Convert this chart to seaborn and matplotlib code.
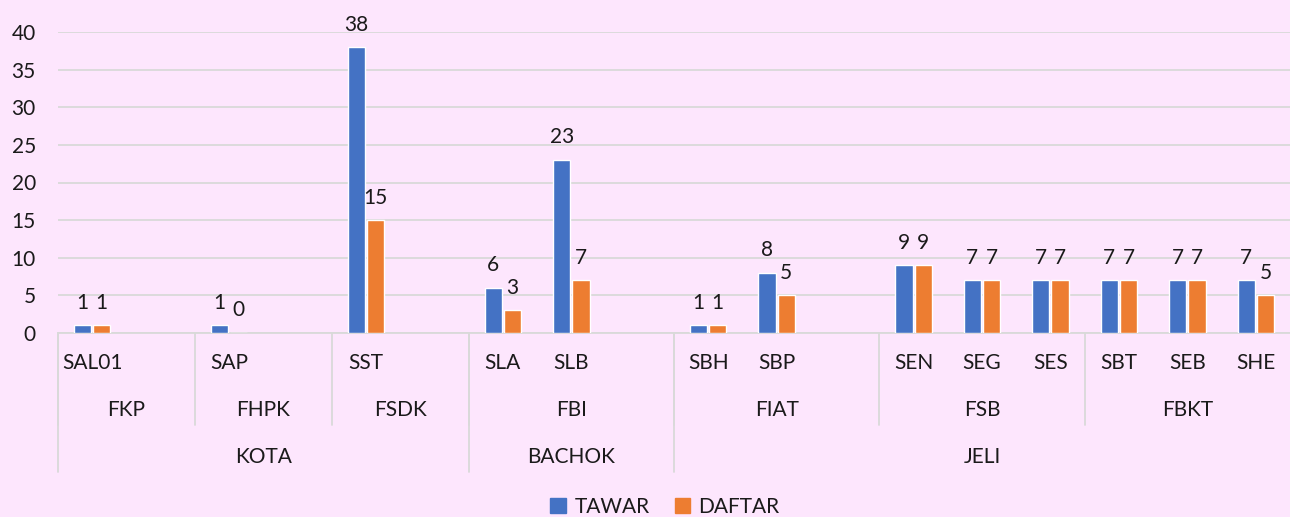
import pandas as pd
import matplotlib.pyplot as plt
import matplotlib.transforms as mtransforms
from matplotlib.patches import Patch
import seaborn as sns

# data
stesen = ['SAL01', 'SAP', 'SST', 'SLA', 'SLB', 'SBH', 'SBP',
          'SEN', 'SEG', 'SES', 'SBT', 'SEB', 'SHE']
tawar = [1, 1, 38, 6, 23, 1, 8, 9, 7, 7, 7, 7, 7]
daftar = [1, 0, 15, 3, 7, 1, 5, 9, 7, 7, 7, 7, 5]

# category slots on the axis (blank slots are empty categories in the source)
slots = ['SAL01', '', 'SAP', '', 'SST', '', 'SLA', 'SLB', '',
         'SBH', 'SBP', '', 'SEN', 'SEG', 'SES', 'SBT', 'SEB', 'SHE']
fakulti = ['FKP', 'FHPK', 'FSDK', 'FBI', 'FIAT', 'FSB', 'FBKT']
fakulti_span = [2, 2, 2, 3, 3, 3, 3]
kampus = ['KOTA', 'BACHOK', 'JELI']
kampus_span = [6, 3, 9]

order = [s if s else f'_blank{i}' for i, s in enumerate(slots)]

df = pd.DataFrame({
    'stesen': stesen * 2,
    'nilai': tawar + daftar,
    'siri': ['TAWAR'] * len(stesen) + ['DAFTAR'] * len(stesen),
})

bg = '#FDE6FD'
grid_c = '#D9D9D9'
txt_c = '#1a1a1a'
colors = {'TAWAR': '#4472C4', 'DAFTAR': '#ED7D31'}

sns.set_style('white')
plt.rcParams['font.family'] = ['Lato', 'DejaVu Sans']
fs = 15

fig = plt.figure(figsize=(12.9, 5.17), dpi=100, facecolor=bg)
ax = fig.add_axes([58 / 1290, (517 - 333) / 517, 1 - 58 / 1290, 301 / 517])
ax.set_facecolor(bg)

sns.barplot(data=df, x='stesen', y='nilai', hue='siri', order=order,
            hue_order=['TAWAR', 'DAFTAR'], palette=colors, saturation=1,
            width=0.56, gap=0.1, legend=False, ax=ax, zorder=3)

for cont in ax.containers:
    ax.bar_label(cont, fmt='%g', padding=9, fontsize=fs, color=txt_c)

ax.set_ylim(0, 40)
ax.set_xlim(-0.5, len(slots) - 0.5)
ax.set_yticks(range(0, 41, 5))
ax.yaxis.grid(True, color=grid_c, lw=1.3, zorder=0)
ax.set_axisbelow(True)
for s in ['top', 'right', 'left']:
    ax.spines[s].set_visible(False)
ax.spines['bottom'].set_color(grid_c)
ax.spines['bottom'].set_linewidth(1.3)
ax.tick_params(axis='y', length=0, pad=16, labelsize=fs, labelcolor=txt_c)
ax.set_xticks([])
ax.set_xlabel('')
ax.set_ylabel('')

# multi-level category axis
trans = mtransforms.blended_transform_factory(ax.transData, ax.transAxes)
y1, y2, y3 = -30 / 301, -77 / 301, -124 / 301
sep2, sep3 = -92 / 301, -139 / 301

for i, s in enumerate(slots):
    if s:
        ax.text(i, y1, s, transform=trans, ha='center', va='center',
                fontsize=fs, color=txt_c)

start = 0
for name, span in zip(fakulti, fakulti_span):
    ax.text(start + span / 2 - 0.5, y2, name, transform=trans,
            ha='center', va='center', fontsize=fs, color=txt_c)
    ax.plot([start - 0.5] * 2, [0, sep2], transform=trans, color=grid_c,
            lw=1.3, clip_on=False)
    start += span

start = 0
for name, span in zip(kampus, kampus_span):
    ax.text(start + span / 2 - 0.5, y3, name, transform=trans,
            ha='center', va='center', fontsize=fs, color=txt_c)
    ax.plot([start - 0.5] * 2, [0, sep3], transform=trans, color=grid_c,
            lw=1.3, clip_on=False)
    start += span

handles = [Patch(color=colors[k], label=k) for k in ['TAWAR', 'DAFTAR']]
fig.legend(handles=handles, loc='center', bbox_to_anchor=(665 / 1290, 1 - 507 / 517),
           ncol=2, frameon=False, fontsize=fs, handlelength=0.75,
           handleheight=0.75, handletextpad=0.4, columnspacing=1.2,
           labelcolor=txt_c)

fig.savefig('out.png', dpi=100, facecolor=bg)
